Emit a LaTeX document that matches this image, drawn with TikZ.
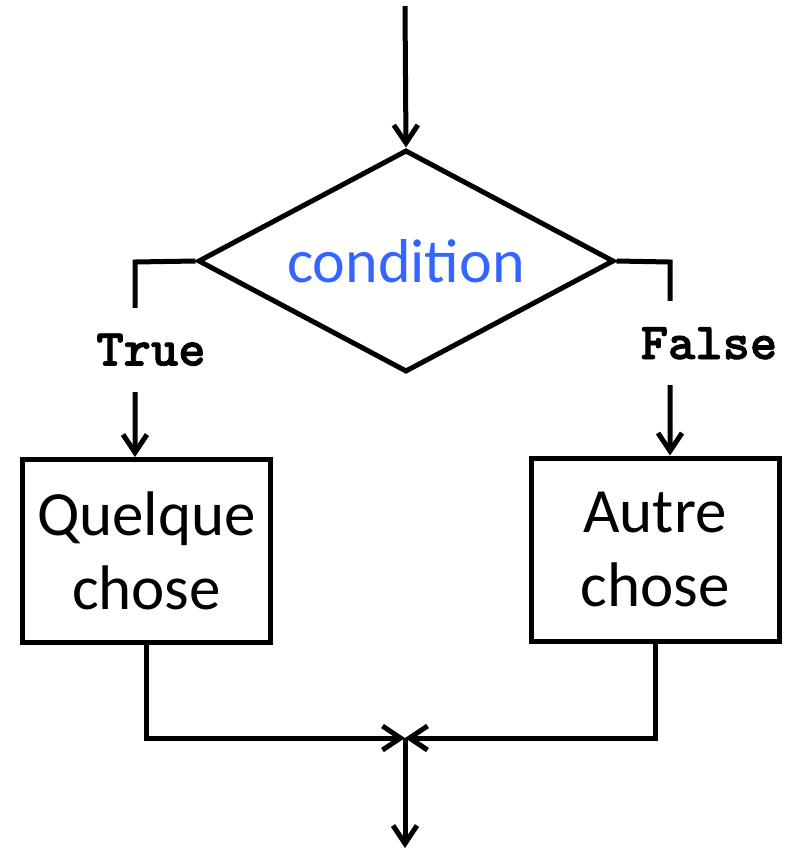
\documentclass[tikz,border=0pt]{standalone}
\usepackage{fontspec}
\setmainfont{Carlito}
\newfontfamily\codefont[FakeBold=1.6]{lmmonolt10-bold.otf}
\usetikzlibrary{shapes.geometric,arrows.meta}

\definecolor{condblue}{HTML}{3366FF}

\begin{document}
\begin{tikzpicture}
[
  x=0.5pt, y=-0.5pt,
  line width=2.5pt,
  flow/.style={line join=miter, -{Straight Barb[length=9pt,width=12pt]}},
  test/.style={diamond, draw, aspect=1.87, inner sep=0pt,
    minimum width=208pt, minimum height=111pt,
    text=condblue, font=\fontsize{31}{37}\selectfont},
  action/.style={rectangle, draw, align=center, inner sep=0pt,
    minimum width=124pt, minimum height=91.5pt,
    font=\fontsize{31.5}{37}\selectfont},
  branch/.style={fill=white, inner xsep=2pt, inner ysep=13pt,
    font=\codefont\fontsize{26}{30}\selectfont}
]
  \useasboundingbox (0,0) rectangle (786,852);

  % nodes
  \node[test] (cond) at (406,261) {condition};
  \node[action] (some) at (146.5,551) {Quelque\\chose};
  \node[action] (other) at (655,549.5) {Autre\\chose};

  \coordinate (start) at (405,6);
  \coordinate (tl) at (135,262);
  \coordinate (tr) at (670,262);
  \coordinate (merge) at (405,738);
  \coordinate (stop) at (405,848);

  % edges
  \draw[flow] (start) -- (cond.north);
  \draw[flow] (cond.west) -- (tl)
    -- node[branch, pos=0.45, xshift=8pt] {True} (tl |- some.north);
  \draw[flow] (cond.east) -- (tr)
    -- node[branch, pos=0.42, xshift=19.5pt] {False} (tr |- other.north);
  \draw[flow] (some.south) |- (merge);
  \draw[flow] (other.south) |- (merge);
  \draw[flow] (merge) -- (stop);
\end{tikzpicture}
\end{document}
